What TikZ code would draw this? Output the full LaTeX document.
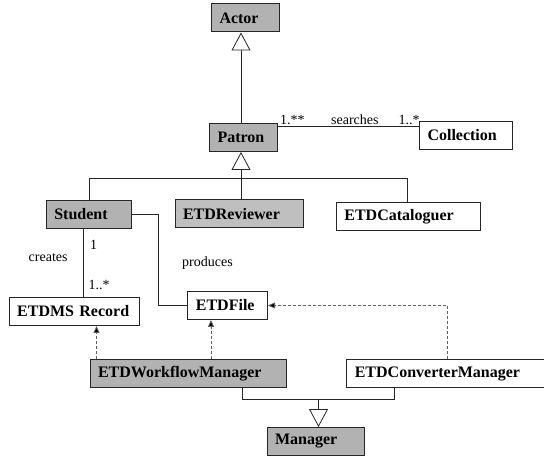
\documentclass[tikz,border=0pt]{standalone}
\usepackage{fontspec}
\setmainfont{Liberation Serif}
\usetikzlibrary{arrows.meta}
\definecolor{clsgray}{HTML}{B2B2B2}
\definecolor{clsgraylt}{HTML}{BFBFBF}
\definecolor{depgray}{HTML}{606060}
\begin{document}
\begin{tikzpicture}[x=1pt,y=-1pt,
  cls/.style={draw=black!85, line width=1pt, fill=white,
    font=\bfseries\fontsize{16}{18}\selectfont,
    inner xsep=8pt, inner ysep=0pt, minimum height=28pt,
    align=left, anchor=north west},
  grayc/.style={cls, fill=clsgray},
  conn/.style={draw=black!85, line width=0.8pt},
  gen/.style={conn, -{Triangle[open, length=18pt, width=19pt, fill=white]}},
  dep/.style={draw=depgray, line width=0.8pt, dash pattern=on 3pt off 2pt,
    -{Triangle[length=7pt, width=6pt, fill=black]}},
  lbl/.style={font=\fontsize{14}{16}\selectfont, inner sep=0pt}
]
\useasboundingbox (0,0) rectangle (544,457);
% classes
\node[grayc, text width=52pt] (actor) at (211,3.5) {Actor};
\node[grayc, text width=52pt] (patron) at (209,123) {Patron};
\node[cls, text width=77.3pt] (coll) at (419,120.7) {Collection};
\node[grayc, text width=69pt] (stud) at (45.8,200) {Student};
\node[cls, fill=clsgraylt, text width=112.4pt] (rev) at (174.5,199.5) {ETDReviewer};
\node[cls, text width=127.6pt] (cat) at (335.9,202.5) {ETDCataloguer};
\node[cls, text width=114pt] (etdms) at (8.7,297) {ETDMS Record};
\node[cls, text width=63.6pt] (file) at (187.4,291) {ETDFile};
\node[grayc, text width=180pt] (wf) at (89.5,359.3) {ETDWorkflowManager};
\node[cls, text width=181.2pt] (conv) at (346.3,359.3) {ETDConverterManager};
\node[grayc, text width=81.8pt] (mgr) at (266.5,427) {Manager};
% helper coordinates
\coordinate (gx) at (241,0);
\coordinate (busl) at (89.5,178);
\coordinate (busr) at (407.7,178);
\coordinate (assoc) at (0,126.7);
\coordinate (crx) at (83,0);
\coordinate (bend) at (158.6,250);
\coordinate (d1) at (96.5,0);
\coordinate (d2) at (211,0);
\coordinate (d3) at (447.6,0);
\coordinate (b2l) at (242,399);
\coordinate (b2r) at (394.5,399);
\coordinate (b2m) at (318.5,399);
% generalizations
\draw[gen] (patron.north -| gx) -- (actor.south -| gx);
\draw[gen] (rev.north -| gx) -- (patron.south -| gx);
\draw[conn] (stud.north -| busl) -- (busl) -- (busr) -- (cat.north -| busr);
\draw[conn] (wf.south -| b2l) -- (b2l) -- (b2r) -- (conv.south -| b2r);
\draw[gen] (b2m) -- (mgr.north -| b2m);
% associations
\draw[conn] (patron.east |- assoc) -- (coll.west |- assoc);
\node[lbl, anchor=base west] (m1) at (280,125) {1.**};
\node[lbl, anchor=base west] (srch) at (331,125) {searches};
\node[lbl, anchor=base west] (m2) at (398.5,125) {1..*};
\draw[conn] (stud.south -| crx) -- (etdms.north -| crx);
\node[lbl, anchor=west] (one) at (90,244.5) {1};
\node[lbl, anchor=west] (creates) at (28.5,257.5) {creates};
\node[lbl, anchor=west] (many) at (88.5,285) {1..*};
\draw[conn] (stud.east) -| (bend) |- (file.west);
\node[lbl, anchor=west] (prod) at (182,263.5) {produces};
% dependencies
\draw[dep] (wf.north -| d1) -- (etdms.south -| d1);
\draw[dep] (wf.north -| d2) -- (file.south -| d2);
\draw[dep] (conv.north -| d3) |- (file.east);
\end{tikzpicture}
\end{document}
